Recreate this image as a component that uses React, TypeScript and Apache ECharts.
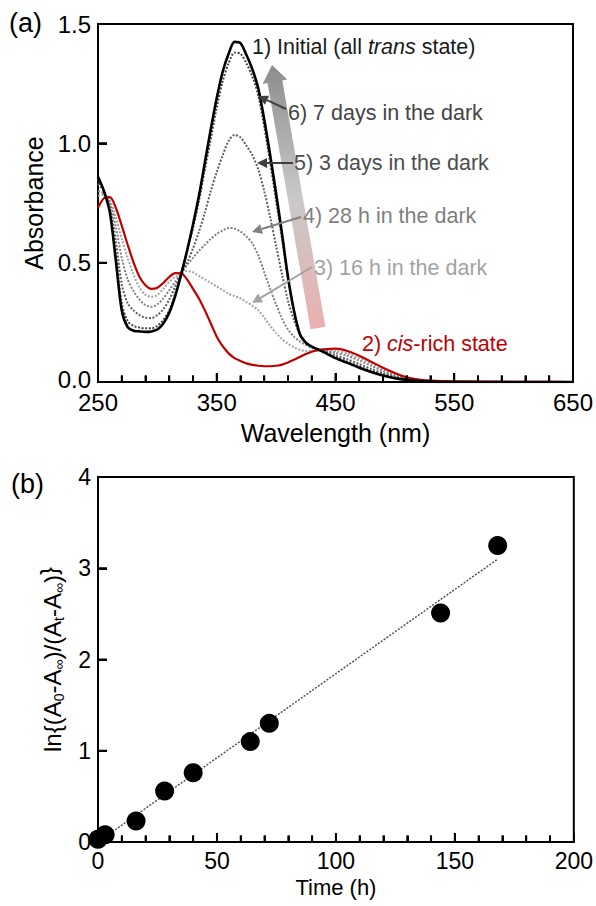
import React, { useEffect, useRef } from 'react';
import * as echarts from 'echarts';

// ---------- Panel (a): UV-vis spectra ----------
const wavelengths = [250, 255, 260, 265, 270, 275, 280, 285, 290, 295, 300, 305, 310, 315, 320, 325, 330, 335, 340, 345, 350, 355, 360, 365, 370, 375, 380, 385, 390, 395, 400, 405, 410, 415, 420, 425, 430, 435, 440, 450, 460, 470, 480, 490, 500, 510, 520, 530, 540, 550, 575, 600, 625, 650];

const initialTrans = [0.86, 0.80, 0.71, 0.51, 0.30, 0.23, 0.215, 0.212, 0.21, 0.212, 0.22, 0.245, 0.29, 0.36, 0.45, 0.55, 0.66, 0.78, 0.92, 1.06, 1.19, 1.30, 1.375, 1.425, 1.42, 1.37, 1.31, 1.23, 1.10, 0.95, 0.79, 0.62, 0.44, 0.30, 0.20, 0.165, 0.148, 0.137, 0.125, 0.10, 0.08, 0.06, 0.042, 0.027, 0.016, 0.009, 0.005, 0.002, 0, 0, 0, 0, 0, 0];

const cisRich = [0.73, 0.77, 0.775, 0.73, 0.655, 0.575, 0.50, 0.44, 0.405, 0.39, 0.395, 0.415, 0.44, 0.456, 0.455, 0.43, 0.39, 0.35, 0.30, 0.245, 0.19, 0.15, 0.12, 0.10, 0.088, 0.078, 0.072, 0.068, 0.066, 0.066, 0.068, 0.073, 0.082, 0.093, 0.105, 0.117, 0.127, 0.133, 0.137, 0.14, 0.13, 0.11, 0.085, 0.06, 0.038, 0.02, 0.01, 0.006, 0.004, 0.003, 0.002, 0.001, 0.001, 0];

const dark16h = [0.78, 0.785, 0.76, 0.69, 0.60, 0.52, 0.45, 0.395, 0.365, 0.357, 0.365, 0.39, 0.42, 0.44, 0.455, 0.465, 0.46, 0.445, 0.43, 0.415, 0.40, 0.385, 0.37, 0.36, 0.35, 0.335, 0.32, 0.30, 0.27, 0.235, 0.205, 0.18, 0.16, 0.145, 0.135, 0.13, 0.13, 0.132, 0.135, 0.13, 0.12, 0.10, 0.077, 0.053, 0.033, 0.018, 0.01, 0.005, 0.003, 0.002, 0.001, 0, 0, 0];

const dark28h = [0.80, 0.79, 0.75, 0.65, 0.52, 0.43, 0.38, 0.345, 0.322, 0.315, 0.325, 0.35, 0.385, 0.42, 0.455, 0.49, 0.52, 0.55, 0.575, 0.60, 0.62, 0.635, 0.645, 0.643, 0.63, 0.61, 0.58, 0.53, 0.46, 0.39, 0.325, 0.265, 0.22, 0.19, 0.17, 0.155, 0.143, 0.135, 0.132, 0.122, 0.11, 0.09, 0.068, 0.046, 0.028, 0.015, 0.008, 0.004, 0.002, 0.001, 0, 0, 0, 0];

const dark3d = [0.83, 0.80, 0.73, 0.59, 0.41, 0.33, 0.30, 0.28, 0.27, 0.268, 0.28, 0.305, 0.345, 0.40, 0.455, 0.50, 0.56, 0.63, 0.71, 0.80, 0.88, 0.95, 1.01, 1.035, 1.025, 0.99, 0.95, 0.89, 0.80, 0.69, 0.57, 0.45, 0.34, 0.26, 0.20, 0.165, 0.148, 0.137, 0.13, 0.112, 0.095, 0.075, 0.055, 0.037, 0.022, 0.012, 0.006, 0.003, 0.001, 0, 0, 0, 0, 0];

const dark7d = [0.85, 0.80, 0.72, 0.53, 0.33, 0.255, 0.235, 0.228, 0.225, 0.225, 0.235, 0.26, 0.30, 0.37, 0.455, 0.55, 0.645, 0.76, 0.89, 1.02, 1.15, 1.26, 1.335, 1.38, 1.375, 1.335, 1.28, 1.20, 1.07, 0.92, 0.76, 0.60, 0.43, 0.30, 0.205, 0.167, 0.148, 0.137, 0.127, 0.104, 0.085, 0.065, 0.046, 0.03, 0.018, 0.01, 0.005, 0.002, 0, 0, 0, 0, 0, 0];

const wlTicks = [250, 350, 450, 550, 650];
const wlMinorStep = 20;
const absTicks = [0, 0.5, 1.0, 1.5];

// ---------- Panel (b): kinetics ----------
const timeHours = [0, 3, 16, 28, 40, 64, 72, 144, 168];
const lnRatio = [0.03, 0.08, 0.23, 0.56, 0.76, 1.10, 1.30, 2.51, 3.25];
const fitTime = [0, 168];
const fitLn = [0, 3.1];
const timeTicks = [0, 50, 100, 150, 200];
const timeMinorStep = 10;
const lnTicks = [0, 1, 2, 3, 4];

const FONT = '"Liberation Sans", Arial, Helvetica, sans-serif';
const ANN = 21.5;

const GRID_A = { left: 98, top: 24, width: 478, height: 358 };
const GRID_B = { left: 98, top: 477, width: 476, height: 365 };

const pairs = (xs: number[], ys: number[]) => xs.map((x, i) => [x, ys[i]]);

function arrow(x1: number, y1: number, x2: number, y2: number, color: string, lw = 2, hl = 10, hw = 5) {
  const dx = x2 - x1;
  const dy = y2 - y1;
  const L = Math.hypot(dx, dy);
  const ux = dx / L;
  const uy = dy / L;
  const nx = -uy;
  const ny = ux;
  const bx = x2 - ux * hl;
  const by = y2 - uy * hl;
  return [
    { type: 'line', z: 100, shape: { x1, y1, x2: bx, y2: by }, style: { stroke: color, lineWidth: lw } },
    {
      type: 'polygon',
      z: 100,
      shape: { points: [[x2, y2], [bx + nx * hw, by + ny * hw], [bx - nx * hw, by - ny * hw]] },
      style: { fill: color },
    },
  ];
}

function bigArrow() {
  const tx = 272, ty = 65; // tip
  const bxB = 318, byB = 328; // base
  const dx = bxB - tx, dy = byB - ty;
  const L = Math.hypot(dx, dy);
  const ux = dx / L, uy = dy / L;
  const nx = uy, ny = -ux;
  const hl = 17, sw = 7.5, hw = 12.5;
  const hx = tx + ux * hl, hy = ty + uy * hl;
  const pts = [
    [tx, ty],
    [hx + nx * hw, hy + ny * hw],
    [hx + nx * sw, hy + ny * sw],
    [bxB + nx * sw, byB + ny * sw],
    [bxB - nx * sw, byB - ny * sw],
    [hx - nx * sw, hy - ny * sw],
    [hx - nx * hw, hy - ny * hw],
  ];
  return {
    type: 'polygon',
    z: 50,
    shape: { points: pts },
    style: {
      fill: {
        type: 'linear', x: 0, y: 0, x2: 0, y2: 1,
        colorStops: [
          { offset: 0, color: '#8c8c8c' },
          { offset: 0.5, color: '#c9c9c9' },
          { offset: 1, color: '#ebb0b0' },
        ],
      },
    },
  };
}

const textEl = (x: number, y: number, text: string, fill: string, rich?: any, size = ANN, align = 'left') => ({
  type: 'text',
  z: 100,
  x,
  y,
  style: {
    text,
    fill,
    font: `${size}px ${FONT}`,
    fontSize: size,
    fontFamily: FONT,
    textAlign: align,
    align,
    textVerticalAlign: 'middle',
    verticalAlign: 'middle',
    rich,
  },
});

// tick segments in data units (separated by gaps), drawn by the axes' own scales
function xTickSegs(lo: number, hi: number, step: number, majorEvery: number, base: number, majorLen: number, minorLen: number) {
  const out: any[] = [];
  for (let v = lo + step; v < hi - 1e-9; v += step) {
    const major = Math.abs(((v - lo) / majorEvery) - Math.round((v - lo) / majorEvery)) < 1e-9;
    out.push([v, base], [v, base + (major ? majorLen : minorLen)], ['-', '-']);
  }
  return out;
}
function yTickSegs(values: number[], base: number, len: number) {
  const out: any[] = [];
  values.forEach((v) => out.push([base, v], [base + len, v], ['-', '-']));
  return out;
}

export default function App() {
  const ref = useRef<HTMLDivElement>(null);

  useEffect(() => {
    if (!ref.current) return;
    const chart = echarts.init(ref.current, undefined, { renderer: 'svg' });

    const axisLabelStyle = { color: '#000', fontSize: 24, fontFamily: FONT };
    const nameStyle = { color: '#000', fontSize: 25, fontFamily: FONT };

    const wLo = wlTicks[0], wHi = wlTicks[wlTicks.length - 1];
    const aLo = absTicks[0], aHi = absTicks[absTicks.length - 1];
    const tLo = timeTicks[0], tHi = timeTicks[timeTicks.length - 1];
    const lLo = lnTicks[0], lHi = lnTicks[lnTicks.length - 1];
    // pixel lengths converted to data units of each axis
    const pxA_y = (aHi - aLo) / GRID_A.height;
    const pxA_x = (wHi - wLo) / GRID_A.width;
    const pxB_y = (lHi - lLo) / GRID_B.height;
    const pxB_x = (tHi - tLo) / GRID_B.width;

    const tickSeries = (xi: number, data: any[]) => ({
      type: 'line',
      xAxisIndex: xi,
      yAxisIndex: xi,
      data,
      showSymbol: false,
      symbol: 'none',
      connectNulls: false,
      silent: true,
      clip: false,
      lineStyle: { color: '#000', width: 2, cap: 'butt' },
      z: 20,
    });

    const dotted = (name: string, data: number[], color: string) => ({
      name,
      type: 'line',
      xAxisIndex: 0,
      yAxisIndex: 0,
      data: pairs(wavelengths, data),
      showSymbol: false,
      symbol: 'none',
      smooth: 0.3,
      lineStyle: { color, width: 2, type: [2, 1.6] },
      z: 2,
    });

    const option: any = {
      animation: false,
      backgroundColor: '#fff',
      grid: [
        { ...GRID_A, show: true, borderColor: '#000', borderWidth: 2, backgroundColor: 'rgba(0,0,0,0)' },
        { ...GRID_B, show: true, borderColor: '#000', borderWidth: 2, backgroundColor: 'rgba(0,0,0,0)' },
      ],
      xAxis: [
        {
          gridIndex: 0,
          type: 'value',
          min: wLo,
          max: wHi,
          interval: 100,
          name: 'Wavelength (nm)',
          nameLocation: 'middle',
          nameGap: 38,
          nameTextStyle: nameStyle,
          axisLine: { show: true, onZero: false, lineStyle: { color: '#000', width: 2 } },
          axisTick: { show: true, inside: true, length: 9, lineStyle: { color: '#000', width: 2 } },
          minorTick: { show: true, splitNumber: 5, length: 6.5, lineStyle: { color: '#000', width: 2 } },
          splitLine: { show: false },
          axisLabel: { ...axisLabelStyle, margin: 11, lineHeight: 18 },
        },
        {
          gridIndex: 1,
          type: 'value',
          min: tLo,
          max: tHi,
          interval: 50,
          name: 'Time (h)',
          nameLocation: 'middle',
          nameGap: 34,
          nameTextStyle: { ...nameStyle, fontSize: 22 },
          axisLine: { show: true, onZero: false, lineStyle: { color: '#000', width: 2 } },
          axisTick: { show: true, inside: true, length: 9, lineStyle: { color: '#000', width: 2 } },
          minorTick: { show: true, splitNumber: 5, length: 6.5, lineStyle: { color: '#000', width: 2 } },
          splitLine: { show: false },
          axisLabel: { ...axisLabelStyle, fontSize: 23, margin: 10, lineHeight: 18 },
        },
      ],
      yAxis: [
        {
          gridIndex: 0,
          type: 'value',
          min: aLo,
          max: aHi,
          interval: 0.5,
          name: 'Absorbance',
          nameLocation: 'middle',
          nameGap: 47,
          nameRotate: 90,
          nameTextStyle: nameStyle,
          axisLine: { show: true, onZero: false, lineStyle: { color: '#000', width: 2 } },
          axisTick: { show: true, inside: true, length: 9, lineStyle: { color: '#000', width: 2 } },
          splitLine: { show: false },
          axisLabel: { ...axisLabelStyle, margin: 7, lineHeight: 16, showMinLabel: false, formatter: (v: number) => v.toFixed(1) },
        },
        {
          gridIndex: 1,
          type: 'value',
          min: lLo,
          max: lHi,
          interval: 1,
          name: '{n|ln{(A}{s|0}{n|-A}{s|∞}{n|)/(A}{s|t}{n|-A}{s|∞}{n|)}}',
          nameLocation: 'middle',
          nameGap: 34,
          nameRotate: 90,
          nameTextStyle: {
            color: '#000',
            fontFamily: FONT,
            fontSize: 24,
            rich: {
              n: { fontSize: 24, fontFamily: FONT, color: '#000', lineHeight: 32, verticalAlign: 'bottom' },
              s: { fontSize: 14, fontFamily: FONT, color: '#000', lineHeight: 32, verticalAlign: 'bottom', padding: [0, 0, -2, 0] },
            },
          },
          axisLine: { show: true, onZero: false, lineStyle: { color: '#000', width: 2 } },
          axisTick: { show: true, inside: true, length: 9, lineStyle: { color: '#000', width: 2 } },
          splitLine: { show: false },
          axisLabel: { ...axisLabelStyle, fontSize: 23, margin: 7, lineHeight: 16 },
        },
      ],
      series: [
        dotted('16 h', dark16h, '#a3a3a3'),
        dotted('28 h', dark28h, '#808080'),
        dotted('3 days', dark3d, '#5e5e5e'),
        dotted('7 days', dark7d, '#444444'),
        {
          name: 'cis-rich',
          type: 'line',
          xAxisIndex: 0,
          yAxisIndex: 0,
          data: pairs(wavelengths, cisRich),
          showSymbol: false,
          symbol: 'none',
          smooth: 0.3,
          lineStyle: { color: '#c00000', width: 2.2 },
          z: 3,
        },
        {
          name: 'Initial',
          type: 'line',
          xAxisIndex: 0,
          yAxisIndex: 0,
          data: pairs(wavelengths, initialTrans),
          showSymbol: false,
          symbol: 'none',
          smooth: 0.3,
          lineStyle: { color: '#000', width: 2.6 },
          z: 4,
        },
        {
          name: 'fit',
          type: 'line',
          xAxisIndex: 1,
          yAxisIndex: 1,
          data: pairs(fitTime, fitLn),
          showSymbol: false,
          symbol: 'none',
          lineStyle: { color: '#555', width: 1.5, type: [2, 1.5] },
          z: 2,
        },
        {
          name: 'ln',
          type: 'scatter',
          xAxisIndex: 1,
          yAxisIndex: 1,
          data: pairs(timeHours, lnRatio),
          symbol: 'circle',
          symbolSize: 19,
          itemStyle: { color: '#000', opacity: 1 },
          clip: false,
          z: 5,
        },
        tickSeries(0, xTickSegs(wLo, wHi, wlMinorStep, 100, aLo, 9 * pxA_y, 6.5 * pxA_y)),
        tickSeries(0, yTickSegs(absTicks.slice(1, -1), wLo, 9 * pxA_x)),
        tickSeries(1, xTickSegs(tLo, tHi, timeMinorStep, 50, lLo, 9 * pxB_y, 6.5 * pxB_y)),
        tickSeries(1, yTickSegs(lnTicks.slice(1, -1), tLo, 9 * pxB_x)),
      ],
      graphic: [
        bigArrow(),
        {
          type: 'text', z: 100, x: 9, y: 23,
          style: { text: '(a)', fill: '#000', font: `27px ${FONT}`, textVerticalAlign: 'middle', verticalAlign: 'middle' },
        },
        {
          type: 'text', z: 100, x: 11, y: 484,
          style: { text: '(b)', fill: '#000', font: `27px ${FONT}`, textVerticalAlign: 'middle', verticalAlign: 'middle' },
        },
        // minimum label of the Absorbance axis, nudged up so it clears "250"
        textEl(GRID_A.left - 7, GRID_A.top + GRID_A.height - 3, absTicks[0].toFixed(1), '#000', undefined, 24, 'right'),
        textEl(252, 47, '{n|1) Initial (all }{i|trans}{n| state)}', '#1a1a1a', {
          n: { fontSize: ANN, fontFamily: FONT, fill: '#1a1a1a' },
          i: { fontSize: ANN, fontFamily: FONT, fontStyle: 'italic', fill: '#1a1a1a' },
        }),
        textEl(288, 113, '6) 7 days in the dark', '#444444'),
        textEl(294, 163, '5) 3 days in the dark', '#4d4d4d'),
        textEl(303, 216, '4) 28 h in the dark', '#7f7f7f'),
        textEl(314, 268, '3) 16 h in the dark', '#a3a3a3'),
        textEl(362, 344, '{n|2) }{i|cis}{n|-rich state}', '#c00000', {
          n: { fontSize: ANN, fontFamily: FONT, fill: '#c00000' },
          i: { fontSize: ANN, fontFamily: FONT, fontStyle: 'italic', fill: '#c00000' },
        }),
        ...arrow(286, 109, 258, 96, '#404040'),
        ...arrow(293, 163, 257, 163, '#404040'),
        ...arrow(301, 217, 252, 232, '#808080'),
        ...arrow(312, 267, 252, 303, '#a3a3a3'),
      ],
    };

    chart.setOption(option);

    return () => chart.dispose();
  }, []);

  return (
    <div
      ref={ref}
      style={{ position: 'fixed', left: 0, top: 0, width: 596, height: 906, background: '#fff' }}
    />
  );
}
